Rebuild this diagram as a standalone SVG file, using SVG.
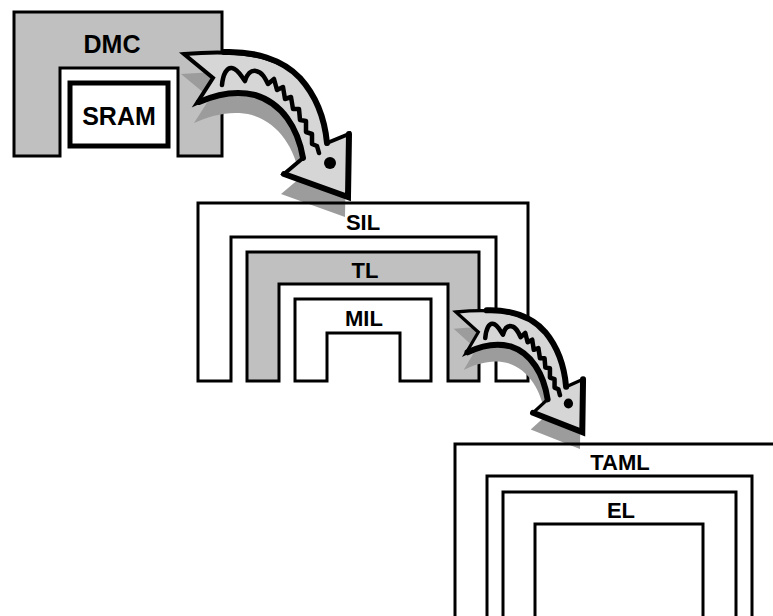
<svg xmlns="http://www.w3.org/2000/svg" xmlns:xlink="http://www.w3.org/1999/xlink" width="773" height="616" viewBox="0 0 773 616">
<style>
.frame{stroke:#000;stroke-width:3;stroke-linejoin:miter}
.gray{fill:#c0c0c0}
.none{fill:none}
.lbl{font-family:"Liberation Sans",Arial,sans-serif;font-weight:bold;fill:#000;text-anchor:middle}
.big{font-size:25px}
.mid{font-size:22px}
.ashadow{fill:#9c9c9c}
.abody{fill:#d6d6d6;stroke:#000;stroke-width:4;stroke-linejoin:miter}
.aedge{fill:none;stroke:#000;stroke-width:6;stroke-linecap:round}
.asq{fill:none;stroke:#000;stroke-width:4.5;stroke-linejoin:round;stroke-linecap:round}
</style>
<defs>
<path id="arrowOutline" d="M0,0 C46,-4 91,-2 116,24 C134,44 141,68 143,89 L165,80 L164,143 L100,120 L119,104 C114,74 98,49 71,41 C51,36 31,41 13,49 L29,24 Z"/>
<g id="arrowShape">
<use xlink:href="#arrowOutline" class="ashadow" transform="translate(-3,20)"/>
<use xlink:href="#arrowOutline" class="abody" style="vector-effect:non-scaling-stroke"/>
<path class="aedge" style="vector-effect:non-scaling-stroke" d="M40,-2 C70,-3 98,5 116,24 C134,44 141,68 143,89"/>
<path class="aedge" style="vector-effect:non-scaling-stroke" d="M119,104 C114,74 98,49 71,41 C51,36 31,41 15,48"/>
<path class="aedge" style="vector-effect:non-scaling-stroke" d="M100,120 L164,143 L165,80"/>
<path class="asq" style="vector-effect:non-scaling-stroke" d="M38,31 C39,20 43,13 48,14 C54,15 57,22 61,27 C63,20 67,16 72,17 C78,18 81,24 84,30 L90,25 L93,36 L99,33 L101,45 L107,43 L109,55 L115,55 L116,66 L122,67 L122,78 L128,80 L128,90 L133,92 L135,99"/>
<circle cx="146" cy="109" r="6" fill="#000"/>
</g>
</defs>
<rect width="773" height="616" fill="#fff"/>

<g id="dmc">
<path class="frame gray" d="M14,12 L222,12 L222,156 L178,156 L178,68 L60,68 L60,156 L14,156 Z"/>
<text class="lbl big" x="112" y="53">DMC</text>
</g>
<g id="sram">
<rect x="70" y="83" width="98" height="63" fill="#fff" stroke="#000" stroke-width="5"/>
<text class="lbl big" x="119" y="125">SRAM</text>
</g>

<g id="connectors">
<g id="arrow1"><use xlink:href="#arrowShape" transform="translate(184,54)"/></g>
</g>

<g id="sil">
<path class="frame none" d="M198,203 L528,203 L528,381 L496,381 L496,237 L231,237 L231,381 L198,381 Z"/>
<text class="lbl mid" x="363" y="230">SIL</text>
</g>
<g id="tl">
<path class="frame gray" d="M247,252 L479,252 L479,381 L448,381 L448,284 L279,284 L279,381 L247,381 Z"/>
<text class="lbl mid" x="365" y="278">TL</text>
</g>
<g id="mil">
<path class="frame" fill="#fff" d="M295,299 L431,299 L431,381 L400,381 L400,333 L327,333 L327,381 L295,381 Z"/>
<text class="lbl mid" x="364" y="326">MIL</text>
</g>

<g id="connectors2">
<g id="arrow2"><use xlink:href="#arrowShape" transform="translate(456,312) scale(0.77,0.84)"/></g>
</g>

<g id="taml">
<path class="frame none" d="M455,625 L455,444 L790,444 L790,625 L752,625 L752,476 L487,476 L487,625 Z"/>
<text class="lbl mid" x="620" y="470">TAML</text>
</g>
<g id="el">
<path class="frame none" d="M503,625 L503,492 L736,492 L736,625 L703,625 L703,524 L535,524 L535,625 Z"/>
<text class="lbl mid" x="621" y="518">EL</text>
</g>
</svg>
